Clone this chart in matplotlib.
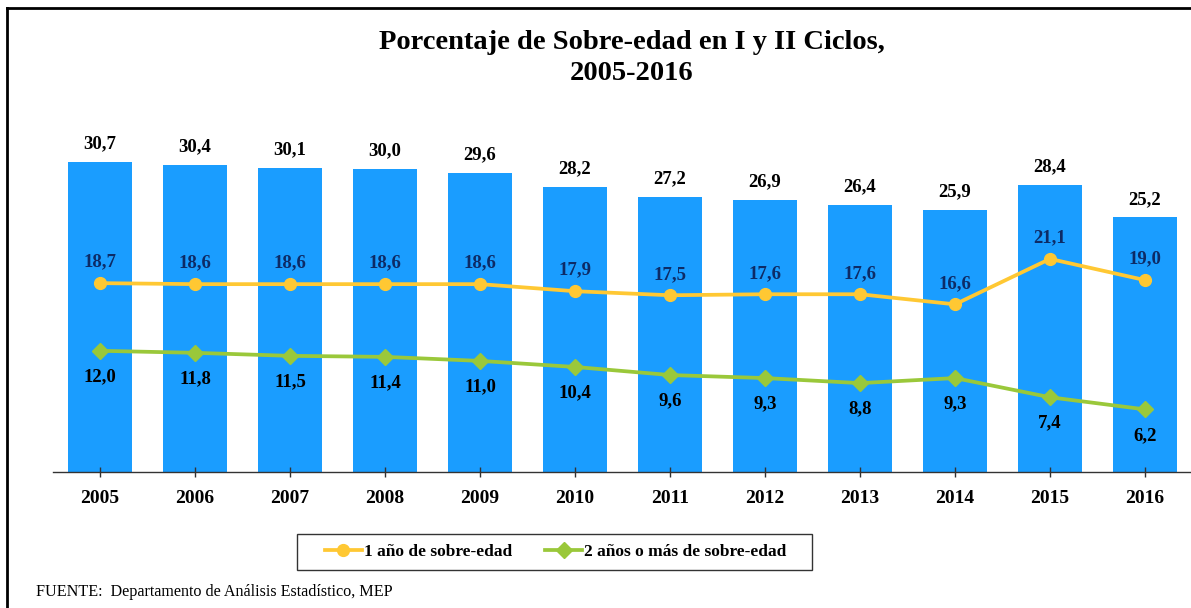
import matplotlib
matplotlib.use("Agg")
import matplotlib.pyplot as plt
from matplotlib.lines import Line2D
from matplotlib.patches import Rectangle

years = ["2005", "2006", "2007", "2008", "2009", "2010", "2011", "2012", "2013", "2014", "2015", "2016"]
total = [30.7, 30.4, 30.1, 30.0, 29.6, 28.2, 27.2, 26.9, 26.4, 25.9, 28.4, 25.2]
one_year = [18.7, 18.6, 18.6, 18.6, 18.6, 17.9, 17.5, 17.6, 17.6, 16.6, 21.1, 19.0]
two_plus = [12.0, 11.8, 11.5, 11.4, 11.0, 10.4, 9.6, 9.3, 8.8, 9.3, 7.4, 6.2]

title = "Porcentaje de Sobre-edad en I y II Ciclos,\n2005-2016"
legend_labels = ["1 año de sobre-edad", "2 años o más de sobre-edad"]
source = "FUENTE:  Departamento de Análisis Estadístico, MEP"

BAR = "#1A9DFF"
YEL = "#FFC833"
GRN = "#9AC83A"
NAVY = "#0D2B66"
SERIF = "Liberation Serif"

W, H = 1191, 608
fig = plt.figure(figsize=(W / 100, H / 100), dpi=100)
fig.patch.set_facecolor("white")

# axes: x from 52.5px to 1192.5px, y baseline 472px, top at 118.5px (35 units)
ax = fig.add_axes([52.5 / W, (H - 472) / H, 1140 / W, 353.5 / H])
x = list(range(len(years)))
ax.bar(x, total, width=0.67, color=BAR, zorder=1)
ax.plot(x, one_year, color=YEL, lw=2.7, marker="o", ms=8.5, zorder=3)
ax.plot(x, two_plus, color=GRN, lw=2.7, marker="D", ms=8, zorder=3)

ax.set_xlim(-0.5, len(years) - 0.5)
ax.set_ylim(0, 35)
for s in ["top", "right", "left"]:
    ax.spines[s].set_visible(False)
ax.spines["bottom"].set_color("#333333")
ax.spines["bottom"].set_linewidth(1.0)
ax.set_yticks([])
ax.set_xticks(x)
ax.set_xticklabels(years, fontfamily=SERIF, fontweight="bold", fontsize=14)
ax.tick_params(axis="x", direction="inout", length=7.5, width=1, color="#333333", pad=9)

for i in x:
    ax.annotate(f"{total[i]:.1f}".replace(".", ","), (i, total[i]), xytext=(0, 7),
                textcoords="offset points", ha="center", va="bottom",
                fontfamily=SERIF, fontweight="bold", fontsize=13.5, color="black")
    ax.annotate(f"{one_year[i]:.1f}".replace(".", ","), (i, one_year[i]), xytext=(0, 9),
                textcoords="offset points", ha="center", va="bottom",
                fontfamily=SERIF, fontweight="bold", fontsize=13.5, color=NAVY)
    ax.annotate(f"{two_plus[i]:.1f}".replace(".", ","), (i, two_plus[i]), xytext=(0, -12.5),
                textcoords="offset points", ha="center", va="top",
                fontfamily=SERIF, fontweight="bold", fontsize=13.5, color="black")

fig.text(632 / W, 1 - 58 / H, title, ha="center", va="center", fontfamily=SERIF,
         fontweight="bold", fontsize=20.5, linespacing=1.3)

handles = [Line2D([], [], color=YEL, lw=2.7, marker="o", ms=8.5),
           Line2D([], [], color=GRN, lw=2.7, marker="D", ms=8)]
leg = fig.legend(handles, legend_labels, loc="center", bbox_to_anchor=(556 / W, 1 - 552 / H),
                 ncol=2, frameon=False,
                 prop={"family": SERIF, "weight": "bold", "size": 12.5},
                 handlelength=2.1, columnspacing=1.9, borderpad=0.45, handletextpad=0.15)
fig.add_artist(Rectangle((297 / W, 1 - 570 / H), 515 / W, 36 / H, transform=fig.transFigure,
                         fill=False, edgecolor="#333333", lw=1.0))

fig.text(36 / W, 1 - 592 / H, source, ha="left", va="center", fontfamily=SERIF, fontsize=11.6)

# outer frame (top and left edges)
fig.add_artist(Line2D([7 / W, 7 / W], [0, 1 - 8 / H], transform=fig.transFigure, color="black", lw=2))
fig.add_artist(Line2D([7 / W, 1], [1 - 8 / H, 1 - 8 / H], transform=fig.transFigure, color="black", lw=2))

fig.savefig("out.png", dpi=100, facecolor="white")
